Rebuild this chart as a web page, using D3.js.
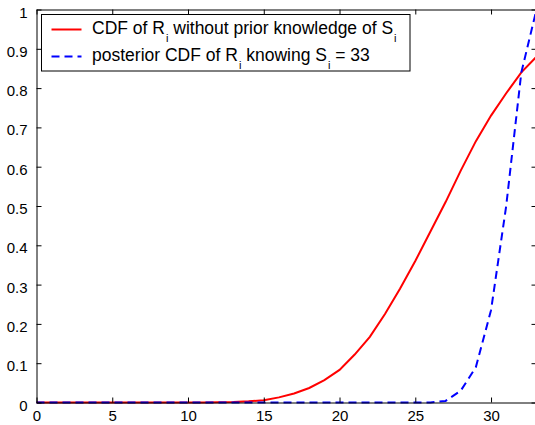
<!DOCTYPE html>
<html>
<head>
<meta charset="utf-8">
<script src="https://cdn.jsdelivr.net/npm/d3@7"></script>
<style>
  html, body { margin: 0; padding: 0; background: #fff; }
  svg { display: block; font-family: "Liberation Sans", Helvetica, Arial, sans-serif; }
</style>
</head>
<body>
<svg id="chart" width="535" height="425"></svg>
<script>
// ---- data ----
const xValues = [0,1,2,3,4,5,6,7,8,9,10,11,12,13,14,15,16,17,18,19,20,21,22,23,24,25,26,27,28,29,30,31,32,33];
const cdfPrior = [0,0,0,0,0,0,0,0,0,0,0,0,0.0005,0.001,0.003,0.006,0.013,0.023,0.037,0.057,0.083,0.122,0.167,0.225,0.29,0.36,0.435,0.51,0.59,0.665,0.73,0.787,0.84,0.88];
const cdfPosterior = [0,0,0,0,0,0,0,0,0,0,0,0,0,0,0,0,0,0,0,0,0,0,0,0,0,0,0,0.004,0.03,0.09,0.235,0.5,0.84,1.0];
const xTicks = [0,5,10,15,20,25,30];
const yTicks = [0,0.1,0.2,0.3,0.4,0.5,0.6,0.7,0.8,0.9,1];
const legendLabels = [
  {parts: [["CDF of R",""],["i","sub"],[" without prior knowledge of S",""],["i","sub"]]},
  {parts: [["posterior CDF of R",""],["i","sub"],[" knowing S",""],["i","sub"],[" = 33",""]]}
];
const seriesColors = ["#ff0000", "#0000ff"];

// ---- layout ----
const svg = d3.select("#chart");
const L = 36.5, R = 536.5, T = 9.5, B = 402.5;
const x = d3.scaleLinear().domain([0, 33]).range([L, R]);
const y = d3.scaleLinear().domain([0, 1]).range([B, T]);
const font = "15px";

const g = svg.append("g");

// lines
const line = (vals) => d3.line().x((d, i) => x(xValues[i])).y(d => y(d))(vals);
g.append("path").attr("d", line(cdfPrior))
  .attr("fill", "none").attr("stroke", seriesColors[0]).attr("stroke-width", 2);
g.append("path").attr("d", line(cdfPosterior))
  .attr("fill", "none").attr("stroke", seriesColors[1]).attr("stroke-width", 2)
  .attr("stroke-dasharray", "8,5");

// axes
const tickLen = 5;
const xAxisB = d3.axisBottom(x).tickValues(xTicks).tickSizeInner(-tickLen).tickSizeOuter(0).tickPadding(8).tickFormat(d3.format("d"));
const xAxisT = d3.axisTop(x).tickValues(xTicks).tickSizeInner(-tickLen).tickSizeOuter(0).tickFormat("");
const yAxisL = d3.axisLeft(y).tickValues(yTicks).tickSizeInner(-tickLen).tickSizeOuter(0).tickPadding(9).tickFormat(d => d === 0 ? "0" : d === 1 ? "1" : d3.format(".1f")(d));
const yAxisR = d3.axisRight(y).tickValues(yTicks).tickSizeInner(-tickLen).tickSizeOuter(0).tickFormat("");

function style(sel) {
  sel.selectAll("path.domain").attr("stroke", "#000").attr("stroke-width", 1);
  sel.selectAll(".tick line").attr("stroke", "#000");
  sel.selectAll(".tick text").attr("fill", "#000").style("font-size", font)
    .style("font-family", '"Liberation Sans", Helvetica, Arial, sans-serif');
}
svg.append("g").attr("transform", `translate(0,${B})`).call(xAxisB).call(style);
svg.append("g").attr("transform", `translate(0,${T})`).call(xAxisT).call(style);
svg.append("g").attr("transform", `translate(${L},0)`).call(yAxisL).call(style)
  .selectAll(".tick text").attr("dy", "0.5em");
svg.append("g").attr("transform", `translate(${R},0)`).call(yAxisR).call(style);

// legend
const lg = svg.append("g");
lg.append("rect").attr("x", 41.5).attr("y", 14.5).attr("width", 368.5).attr("height", 56.5)
  .attr("fill", "#fff").attr("stroke", "#000").attr("stroke-width", 1);
const rowY = [29.5, 56.5];
legendLabels.forEach((lab, i) => {
  const ln = lg.append("line").attr("x1", 51.5).attr("x2", 81.5).attr("y1", rowY[i]).attr("y2", rowY[i])
    .attr("stroke", seriesColors[i]).attr("stroke-width", 2);
  if (i === 1) ln.attr("stroke-dasharray", "8,5");
  const t = lg.append("text").attr("x", 92).attr("y", rowY[i] + 4.5).style("font-size", "17.5px").attr("fill", "#000");
  lab.parts.forEach(([s, kind], k) => {
    if (kind === "sub") {
      t.append("tspan").text(s).style("font-size", "11px").attr("dx", 1).attr("dy", 8);
    } else {
      const sp = t.append("tspan").text(s);
      if (k > 0) sp.attr("dy", -8);
    }
  });
});
</script>
</body>
</html>
